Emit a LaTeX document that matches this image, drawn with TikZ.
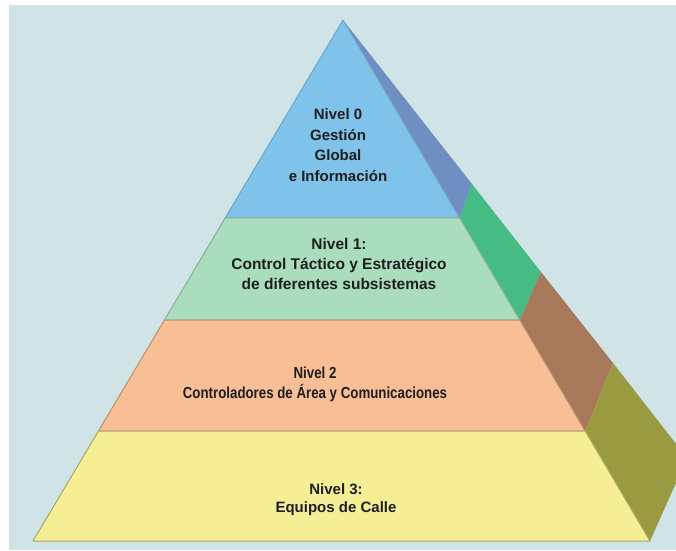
\documentclass[tikz,border=0pt]{standalone}
\usepackage{fontspec}
\setmainfont{Liberation Sans}
\newfontfamily\narrowsans{Liberation Sans}[FakeStretch=0.83]
\usetikzlibrary{calc}

% palette
\definecolor{bgblue}{HTML}{D0E3E6}
\definecolor{lvzero}{HTML}{80C3EA}
\definecolor{lvzeroside}{HTML}{6F8EC2}
\definecolor{lvone}{HTML}{AADCBE}
\definecolor{lvoneside}{HTML}{46BC84}
\definecolor{lvtwo}{HTML}{F8BE95}
\definecolor{lvtwoside}{HTML}{A8785A}
\definecolor{lvthree}{HTML}{F5EE95}
\definecolor{lvthreeside}{HTML}{9A9A40}
\definecolor{inkdark}{HTML}{1E1E1E}

\tikzset{
  band/.style={line width=1pt, line join=round},
  lbl/.style={text=inkdark, align=center, inner sep=0pt}
}

\begin{document}
\begin{tikzpicture}[x=1pt, y=-1pt]
  \useasboundingbox (0,0) rectangle (676,550);
  \fill[white] (0,0) rectangle (676,550);
  \fill[bgblue] (9,5) rectangle (676,550);

  % corners of the pyramid
  \coordinate (A)  at (343,20);
  \coordinate (BL) at (33,541);
  \coordinate (BR) at (650,541);
  \coordinate (V)  at (687,458);

  % level boundaries on the front face
  \coordinate (L1) at ($(A)!0.380!(BL)$);
  \coordinate (R1) at ($(A)!0.380!(BR)$);
  \coordinate (L2) at ($(A)!0.576!(BL)$);
  \coordinate (R2) at ($(A)!0.576!(BR)$);
  \coordinate (L3) at ($(A)!0.789!(BL)$);
  \coordinate (R3) at ($(A)!0.789!(BR)$);

  % level boundaries on the back edge
  \coordinate (Q1) at (472,184);
  \coordinate (Q2) at (541,272);
  \coordinate (Q3) at (613,363);

  \begin{scope}
    \clip (0,0) rectangle (676,550);
    % side face
    \fill[lvzeroside]  (A) -- (R1) -- (Q1) -- cycle;
    \fill[lvoneside]   (R1) -- (R2) -- (Q2) -- (Q1) -- cycle;
    \fill[lvtwoside]   (R2) -- (R3) -- (Q3) -- (Q2) -- cycle;
    \fill[lvthreeside] (R3) -- (BR) -- (V) -- (Q3) -- cycle;

    % front face
    \filldraw[band, fill=lvzero, draw=lvzero!85!black] (A) -- (R1) -- (L1) -- cycle;
    \filldraw[band, fill=lvone, draw=lvone!80!black] (L1) -- (R1) -- (R2) -- (L2) -- cycle;
    \filldraw[band, fill=lvtwo, draw=lvtwo!75!black] (L2) -- (R2) -- (R3) -- (L3) -- cycle;
    \filldraw[band, fill=lvthree, draw=lvthree!70!black] (L3) -- (R3) -- (BR) -- (BL) -- cycle;
  \end{scope}

  % labels
  \node[lbl, font=\fontsize{15}{20.7}\selectfont\bfseries] (n0) at (338,145)
    {Nivel 0\\Gestión\\Global\\e Información};
  \node[lbl, font=\fontsize{15.5}{20}\selectfont\bfseries] (n1) at (339,264)
    {Nivel 1:\\Control Táctico y Estratégico\\de diferentes subsistemas};
  \node[lbl, font=\narrowsans\fontsize{16}{20}\selectfont\bfseries] (n2) at (315,384)
    {Nivel 2\\Controladores de Área y Comunicaciones};
  \node[lbl, font=\fontsize{15}{18}\selectfont\bfseries] (n3) at (336,500)
    {Nivel 3:\\Equipos de Calle};
\end{tikzpicture}
\end{document}
